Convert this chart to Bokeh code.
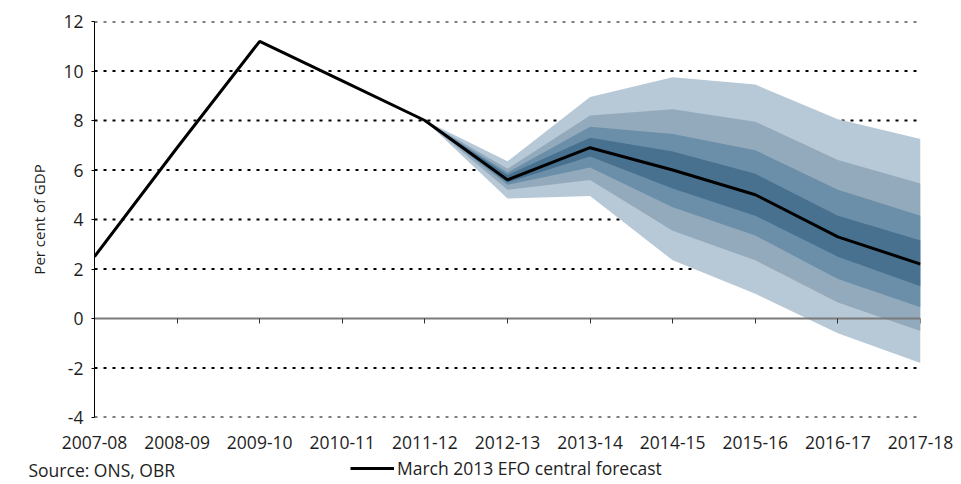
from bokeh.plotting import figure
from bokeh.layouts import column
from bokeh.models import Range1d, FixedTicker, LinearAxis, Legend, LegendItem, Span, Label
from bokeh.embed import file_html
from bokeh.resources import INLINE

years = ["2007-08", "2008-09", "2009-10", "2010-11", "2011-12", "2012-13",
         "2013-14", "2014-15", "2015-16", "2016-17", "2017-18"]
central = [2.5, 6.9, 11.2, 9.6, 8.0, 5.6, 6.9, 6.0, 5.0, 3.3, 2.2]

fan_start = 4  # fan starts at 2011-12
upper4 = [8.0, 6.35, 8.95, 9.75, 9.45, 8.05, 7.25]
upper3 = [8.0, 6.05, 8.2, 8.45, 7.95, 6.4, 5.45]
upper2 = [8.0, 5.9, 7.75, 7.45, 6.8, 5.2, 4.15]
upper1 = [8.0, 5.8, 7.3, 6.75, 5.85, 4.15, 3.15]
lower1 = [8.0, 5.5, 6.55, 5.25, 4.15, 2.5, 1.3]
lower2 = [8.0, 5.4, 6.1, 4.5, 3.35, 1.6, 0.45]
lower3 = [8.0, 5.2, 5.6, 3.55, 2.35, 0.65, -0.5]
lower4 = [8.0, 4.85, 4.95, 2.35, 1.0, -0.6, -1.8]

y_ticks = [-4, -2, 0, 2, 4, 6, 8, 10, 12]
grid_ticks = [-4, -2, 2, 4, 6, 8, 10, 12]

source_text = "Source: ONS, OBR"
series_label = "March 2013 EFO central forecast"

band_colors = ["#b7c8d6", "#93aabd", "#6b8ea9", "#47718f"]

FONT = "Open Sans"
TEXT_COLOR = "#1e1e1e"

x_idx = list(range(len(years)))
fan_x = x_idx[fan_start:]

p = figure(width=961, height=454, output_backend="svg", toolbar_location=None,
           x_range=Range1d(0, len(years) - 1), y_range=Range1d(-4, 12),
           min_border_left=94, min_border_right=41, min_border_top=21,
           min_border_bottom=37)
p.frame_align = False
p.outline_line_color = None
p.background_fill_color = "white"
p.border_fill_color = "white"

# dotted gridlines
for t in grid_ticks:
    p.add_layout(Span(location=t, dimension="width", line_color="black",
                      line_width=2, line_dash="3 6", level="underlay"))

# fan bands (nested, outer first)
for lo, hi, col in [(lower4, upper4, band_colors[0]), (lower3, upper3, band_colors[1]),
                    (lower2, upper2, band_colors[2]), (lower1, upper1, band_colors[3])]:
    p.varea(x=fan_x, y1=lo, y2=hi, fill_color=col, fill_alpha=1.0)

p.line(x_idx, central, line_color="black", line_width=3)

# axes
p.xaxis.ticker = FixedTicker(ticks=x_idx)
p.xaxis.major_label_overrides = {i: y for i, y in enumerate(years)}
p.xaxis.axis_line_color = None
p.xaxis.major_tick_line_color = None
p.xaxis.minor_tick_line_color = None
p.xaxis.major_label_text_font = FONT
p.xaxis.major_label_text_font_size = "17.5px"
p.xaxis.major_label_text_color = TEXT_COLOR
p.xaxis.major_label_standoff = 12

p.yaxis.ticker = FixedTicker(ticks=y_ticks)
p.yaxis.major_label_overrides = {t: str(t) for t in y_ticks}
p.yaxis.axis_line_color = "black"
p.yaxis.axis_line_width = 1
p.yaxis.major_tick_line_color = "black"
p.yaxis.major_tick_out = 3
p.yaxis.major_tick_in = 0
p.yaxis.minor_tick_line_color = None
p.yaxis.major_label_text_font = FONT
p.yaxis.major_label_text_font_size = "17.5px"
p.yaxis.major_label_text_color = TEXT_COLOR
p.yaxis.major_label_standoff = 8
p.yaxis.axis_label = "Per cent of GDP"
p.yaxis.axis_label_text_font = FONT
p.yaxis.axis_label_text_font_size = "15px"
p.yaxis.axis_label_text_font_style = "normal"
p.yaxis.axis_label_text_color = TEXT_COLOR
p.yaxis.axis_label_standoff = 11

# zero line axis with downward ticks
zero_axis = LinearAxis(fixed_location=0, ticker=FixedTicker(ticks=x_idx))
zero_axis.axis_line_color = "#7a7a7a"
zero_axis.axis_line_width = 2
zero_axis.major_tick_line_color = "#333333"
zero_axis.major_tick_in = 5
zero_axis.major_tick_out = 0
zero_axis.minor_tick_line_color = None
zero_axis.major_label_text_font_size = "0px"
zero_axis.major_label_text_alpha = 0
p.add_layout(zero_axis, "above")

p.xgrid.grid_line_color = None
p.ygrid.grid_line_color = None

# footer: source note + legend
f = figure(width=961, height=30, output_backend="svg", toolbar_location=None,
           x_range=Range1d(0, 1), y_range=Range1d(0, 1),
           x_axis_type=None, y_axis_type=None,
           min_border_left=0, min_border_right=0, min_border_top=0, min_border_bottom=0)
f.frame_align = False
f.outline_line_color = None
f.xgrid.grid_line_color = None
f.ygrid.grid_line_color = None
key_line = f.line(x_idx, central, line_color="black", line_width=3, visible=False)

f.add_layout(Label(x=28, y=15, x_units="screen", y_units="screen", text=source_text,
                   text_font=FONT, text_font_size="17.5px", text_color=TEXT_COLOR,
                   text_baseline="middle"))

legend = Legend(items=[LegendItem(label=series_label, renderers=[key_line])],
                location=(350, 4), orientation="horizontal")
legend.padding = 0
legend.margin = 0
legend.border_line_color = None
legend.background_fill_alpha = 0
legend.inactive_fill_alpha = 0
legend.glyph_width = 44
legend.glyph_height = 18
legend.label_height = 18
legend.label_standoff = 3
legend.label_text_font = FONT
legend.label_text_font_size = "17.5px"
legend.label_text_color = TEXT_COLOR
f.add_layout(legend, "center")

layout = column(p, f, spacing=0)
open("out.html", "w").write(file_html(layout, INLINE))
